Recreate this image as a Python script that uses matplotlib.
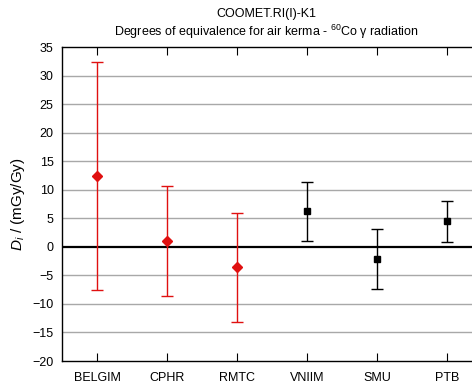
import matplotlib
matplotlib.use('Agg')
import matplotlib.pyplot as plt
import numpy as np

plt.rcParams['font.family'] = ['Liberation Sans', 'DejaVu Sans']
plt.rcParams['mathtext.fontset'] = 'custom'
plt.rcParams['mathtext.rm'] = 'Liberation Sans'
plt.rcParams['mathtext.it'] = 'Liberation Sans:italic'

labs = ['BELGIM', 'CPHR', 'RMTC', 'VNIIM', 'SMU', 'PTB']
di = [12.4, 1.0, -3.6, 6.2, -2.1, 4.5]
ui = [20.0, 9.6, 9.6, 5.1, 5.3, 3.6]
red_n = 3  # first three in red diamonds

fig = plt.figure(figsize=(4.72, 3.85), dpi=100)
ax = fig.add_axes([62/472, 1-361/385, 420/472, 314/385])

x = np.arange(1, len(labs)+1)
ax.errorbar(x[:red_n], di[:red_n], yerr=ui[:red_n], fmt='D', color='#e01010',
            ecolor='#e01010', ms=5, capsize=4, elinewidth=1, capthick=1, zorder=4)
ax.errorbar(x[red_n:], di[red_n:], yerr=ui[red_n:], fmt='s', color='black',
            ecolor='black', ms=5, capsize=4, elinewidth=1, capthick=1, zorder=4)

ax.set_xlim(0.5, 6.5)
ax.set_ylim(-20, 35)
ax.set_yticks(np.arange(-20, 36, 5))
ax.set_xticks(x)
ax.set_xticklabels(labs)
for yv in np.arange(-15, 35, 5):
    if yv != 0:
        ax.axhline(yv, color='#a8a8a8', lw=1, zorder=1)
ax.axhline(0, color='black', lw=1.6, zorder=2)

ax.tick_params(axis='x', direction='in', length=6, top=True, labelsize=9, pad=8)
ax.tick_params(axis='y', length=0, labelsize=9, pad=6)
ax.spines['right'].set_visible(False)
for s in ['left', 'top', 'bottom']:
    ax.spines[s].set_linewidth(1)

ax.set_ylabel('$D_i$ / (mGy/Gy)', fontsize=11, labelpad=4)
fig.text(0.565, 1-14/385, 'COOMET.RI(I)-K1', ha='center', va='center', fontsize=9)
fig.text(0.565, 1-32/385, 'Degrees of equivalence for air kerma - $^{60}$Co \u03b3 radiation',
         ha='center', va='center', fontsize=9)

fig.savefig('out.png', dpi=100)
